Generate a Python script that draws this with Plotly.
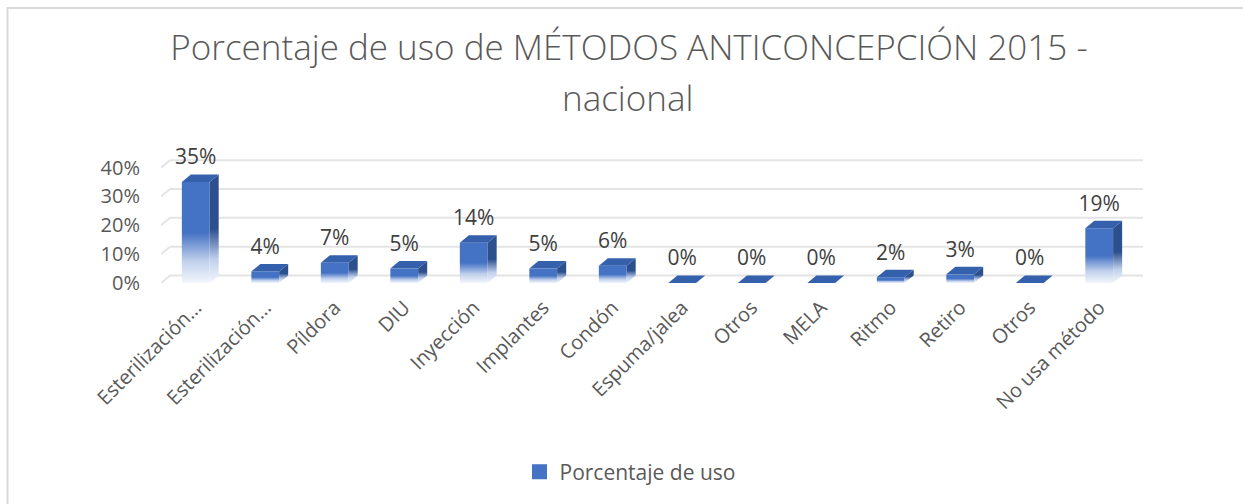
import plotly.graph_objects as go

# ---------------- data ----------------
categories = ["Esterilización…", "Esterilización…", "Píldora", "DIU", "Inyección",
              "Implantes", "Condón", "Espuma/jalea", "Otros", "MELA", "Ritmo",
              "Retiro", "Otros", "No usa método"]
values = [0.35, 0.04, 0.07, 0.05, 0.14, 0.05, 0.06, 0.0, 0.0, 0.0, 0.02, 0.03, 0.0, 0.19]
y_ticks = [0, 0.1, 0.2, 0.3, 0.4]
series_name = "Porcentaje de uso"
title_line1 = "Porcentaje de uso de MÉTODOS ANTICONCEPCIÓN 2015 -"
title_line2 = "nacional"

# ---------------- style ----------------
FONT = "Open Sans"
GREY = "#595959"
W = 0.40      # front face width (category units)
DX = 0.13     # 3D depth, x
DY = 0.026    # 3D depth, y
LABEL_PAD = 0.017
FRONT = "#4472C4"
SIDE = "#2C4F8E"
TOP = "#3460AC"

W_PX, H_PX = 1243, 504
L, R, T, B = 161, 100, 159, 221
PW, PH = W_PX - L - R, H_PX - T - B

def grad(col, light):
    return dict(type="vertical",
                colorscale=[[0, light], [0.22, "#BFD0EC"], [0.5, col], [1, col]])

fig = go.Figure()
n = len(categories)
for i, v in enumerate(values):
    if v > 0:
        fig.add_trace(go.Scatter(
            x=[i - W/2, i + W/2, i + W/2, i - W/2, i - W/2],
            y=[0, 0, v, v, 0], mode="lines", fill="toself",
            line=dict(width=0), fillcolor=FRONT, fillgradient=grad(FRONT, "#F3F6FC"),
            showlegend=False, hoverinfo="skip"))
        fig.add_trace(go.Scatter(
            x=[i + W/2, i + W/2 + DX, i + W/2 + DX, i + W/2, i + W/2],
            y=[0, DY, v + DY, v, 0], mode="lines", fill="toself",
            line=dict(width=0), fillcolor=SIDE, fillgradient=grad(SIDE, "#F3F6FC"),
            showlegend=False, hoverinfo="skip"))
    fig.add_trace(go.Scatter(
        x=[i - W/2, i + W/2, i + W/2 + DX, i - W/2 + DX, i - W/2],
        y=[v, v, v + DY, v + DY, v], mode="lines", fill="toself",
        line=dict(width=0), fillcolor=TOP, showlegend=False, hoverinfo="skip"))

# legend entry
fig.add_trace(go.Scatter(x=[None], y=[None], mode="markers", name=series_name,
                         marker=dict(symbol="square", size=15, color=FRONT, line=dict(width=0))))

# data labels
fig.add_trace(go.Scatter(
    x=list(range(n)), y=[v + DY + LABEL_PAD for v in values], mode="text",
    text=[f"{v:.0%}" for v in values], textposition="top center",
    textfont=dict(family=FONT, size=21, color="#404040"),
    cliponaxis=False, showlegend=False, hoverinfo="skip"))

# gridlines on the back wall
shapes = []
for t in y_ticks:
    shapes.append(dict(type="line", xref="x", yref="y", x0=-0.5, y0=t, x1=-0.5 + DX, y1=t + DY,
                       line=dict(color="#E4E4E4", width=2), layer="below"))
    shapes.append(dict(type="line", xref="x", yref="y", x0=-0.5 + DX, y0=t + DY,
                       x1=n - 0.5 + DX, y1=t + DY,
                       line=dict(color="#E4E4E4", width=2), layer="below"))
# chart border (left/top visible)
shapes.append(dict(type="rect", xref="paper", yref="paper",
                   x0=(7.5 - L) / PW, x1=(W_PX + 20 - L) / PW,
                   y0=(H_PX - B - 8) / PH, y1=(H_PX - B - H_PX - 20) / PH,
                   line=dict(color="#D9D9D9", width=2), fillcolor="rgba(0,0,0,0)", layer="below"))

fig.update_layout(
    width=W_PX, height=H_PX,
    margin=dict(l=L, r=R, t=T, b=B),
    paper_bgcolor="white", plot_bgcolor="white",
    font=dict(family=FONT, color=GREY),
    title=dict(text=title_line1, x=629 / W_PX, xanchor="center", xref="container",
               y=1 - 35 / H_PX, yanchor="top", yref="container",
               font=dict(family=FONT, size=35, color=GREY, weight=300)),
    annotations=[dict(text=title_line2, xref="paper", yref="paper",
                      x=(627 - L) / PW, y=(H_PX - B - 72) / PH, xanchor="center", yanchor="top",
                      showarrow=False, font=dict(family=FONT, size=35, color=GREY, weight=300))],
    shapes=shapes,
    showlegend=True,
    legend=dict(orientation="h", x=(630 - L) / PW, xanchor="center",
                y=(H_PX - B - 472) / PH, yanchor="middle", itemwidth=30,
                font=dict(family=FONT, size=21, color=GREY)),
    xaxis=dict(range=[-0.5, n - 0.5 + DX], tickmode="array", tickvals=list(range(n)),
               ticktext=categories, tickangle=-45, showgrid=False, zeroline=False,
               showline=False, tickfont=dict(family=FONT, size=20, color=GREY),
               ticklabelstandoff=8, fixedrange=True),
    yaxis=dict(range=[0, 0.43], tickmode="array", tickvals=y_ticks, tickformat=".0%",
               showgrid=False, zeroline=False, showline=False,
               tickfont=dict(family=FONT, size=20, color=GREY),
               ticklabelstandoff=20, fixedrange=True),
)

fig.write_html("out.html", include_plotlyjs=True, config={"displayModeBar": False},
               post_script="document.body.style.margin='0';document.body.style.overflow='hidden';")
